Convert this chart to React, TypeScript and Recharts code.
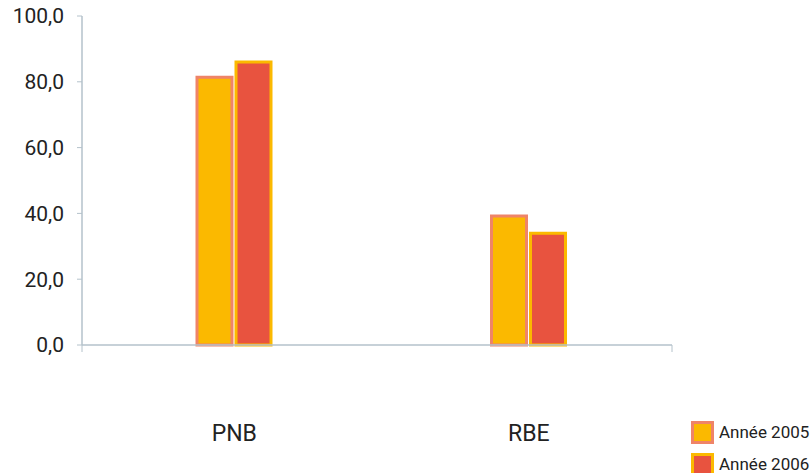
import React from "react";
import { BarChart, Bar, XAxis, YAxis } from "recharts";

const categories = ["PNB", "RBE"];
const values2005 = [81.4, 39.2];
const values2006 = [86.0, 34.0];
const yTicks = [0, 20, 40, 60, 80, 100];
const frameTicks = [0, 1, 2];
const seriesNames = ["Année 2005", "Année 2006"];

const YELLOW = "#FBB900";
const RED = "#E8533F";
const SALMON = "#EF8468";
const AXIS = "#B4C2CB";
const FONT = "Roboto, sans-serif";

const data = categories.map((name, i) => ({
  name,
  y2005: values2005[i],
  y2006: values2006[i],
}));

const legendItems = [
  { name: seriesNames[0], fill: YELLOW, stroke: SALMON },
  { name: seriesNames[1], fill: RED, stroke: YELLOW },
];

const CategoryTick = (props: any) => {
  const { x, y, payload } = props;
  return (
    <text
      x={x}
      y={y}
      dy={80}
      textAnchor="middle"
      fill="#222"
      fontSize={23}
      fontFamily={FONT}
    >
      {payload.value}
    </text>
  );
};

export default function App() {
  return (
    <div
      style={{
        position: "absolute",
        left: 0,
        top: 0,
        width: 811,
        height: 473,
        overflow: "hidden",
        background: "#fff",
      }}
    >
      <BarChart
        width={811}
        height={473}
        data={data}
        margin={{ top: 16, right: 139, left: 0, bottom: 0 }}
        barSize={35}
        barGap={4}
      >
        <XAxis
          xAxisId="axis0"
          type="number"
          domain={[0, 2]}
          ticks={frameTicks}
          height={8}
          tickSize={7}
          tickFormatter={() => ""}
          stroke={AXIS}
          axisLine={{ stroke: AXIS, strokeWidth: 1.5 }}
          tickLine={{ stroke: AXIS }}
        />
        <XAxis
          xAxisId="labels"
          dataKey="name"
          height={120}
          padding={{ left: 5, right: -4 }}
          axisLine={false}
          tickLine={false}
          tick={<CategoryTick />}
        />
        <YAxis
          domain={[0, 100]}
          ticks={yTicks}
          width={82}
          tickSize={5}
          tickMargin={13}
          tickFormatter={(v: number) => v.toFixed(1).replace(".", ",")}
          tick={{ fill: "#222", fontSize: 21, fontFamily: FONT }}
          axisLine={{ stroke: AXIS, strokeWidth: 1.5 }}
          tickLine={{ stroke: AXIS }}
        />
        <Bar
          xAxisId="labels"
          dataKey="y2005"
          name={seriesNames[0]}
          fill={YELLOW}
          stroke={SALMON}
          strokeWidth={3}
          isAnimationActive={false}
        />
        <Bar
          xAxisId="labels"
          dataKey="y2006"
          name={seriesNames[1]}
          fill={RED}
          stroke={YELLOW}
          strokeWidth={3}
          isAnimationActive={false}
        />
      </BarChart>
      <div style={{ position: "absolute", left: 691, top: 416 }}>
        {legendItems.map((item) => (
          <div
            key={item.name}
            style={{
              display: "flex",
              alignItems: "center",
              height: 32,
              fontFamily: FONT,
              fontSize: 17,
              color: "#222",
              whiteSpace: "nowrap",
            }}
          >
            <span
              style={{
                display: "inline-block",
                boxSizing: "border-box",
                width: 23,
                height: 23,
                background: item.fill,
                border: `3px solid ${item.stroke}`,
                marginRight: 5,
              }}
            />
            {item.name}
          </div>
        ))}
      </div>
    </div>
  );
}
